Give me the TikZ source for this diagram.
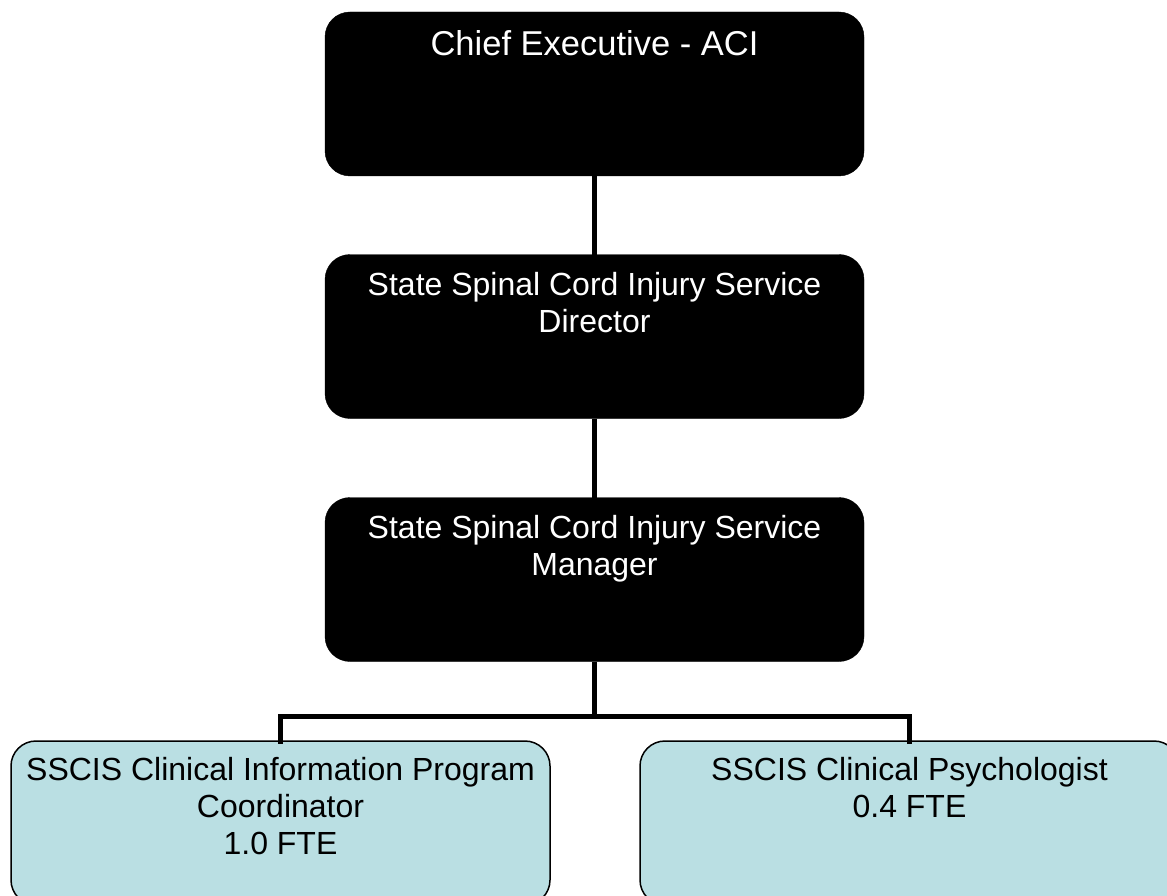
\documentclass[tikz,border=0pt]{standalone}
\usepackage{fontspec}
\setmainfont{Liberation Sans}
\definecolor{staffblue}{RGB}{186,223,227}
\begin{document}
\begin{tikzpicture}[x=1pt,y=-1pt,
  orgbox/.style={rectangle, rounded corners=25pt, minimum width=539pt,
    minimum height=164pt, inner sep=0pt, outer sep=0pt},
  execbox/.style={orgbox, fill=black, draw=black},
  staffbox/.style={orgbox, fill=staffblue, draw=black, line width=1.5pt},
  boxtext/.style={anchor=north, inner sep=0pt, align=center,
    font=\fontsize{32}{37}\selectfont},
  toptext/.style={boxtext, font=\fontsize{34.5}{38}\selectfont},
  link/.style={line width=5pt, black}]
\useasboundingbox (0,0) rectangle (1167,896);
\clip (0,0) rectangle (1167,896);
\fill[white] (0,0) rectangle (1167,896);

% executive chain
\node[execbox] (ceo) at (594.5,94) {};
\node[execbox] (dir) at (594.5,336.5) {};
\node[execbox] (mgr) at (594.5,579.5) {};
% staff positions
\node[staffbox] (cip) at (280.5,823) {};
\node[staffbox] (psy) at (909.5,823) {};

\node[toptext, text=white] (ceoT) at (594.5,30) {Chief Executive - ACI};
\node[boxtext, text=white] (dirT) at (594.5,272) {State Spinal Cord Injury Service\\Director};
\node[boxtext, text=white] (mgrT) at (594.5,515) {State Spinal Cord Injury Service\\Manager};
\node[boxtext, text=black] (cipT) at (280.5,757) {SSCIS Clinical Information Program\\Coordinator\\1.0 FTE};
\node[boxtext, text=black] (psyT) at (909.5,757) {SSCIS Clinical Psychologist\\0.4 FTE};

% reporting lines
\coordinate (split) at (594.5,716);
\draw[link] (ceo.south) -- (dir.north);
\draw[link] (dir.south) -- (mgr.north);
\draw[link] (mgr.south) -- (split);
\draw[link, line cap=rect] (split) -| (cip.north);
\draw[link, line cap=rect] (split) -| (psy.north);
\end{tikzpicture}
\end{document}
